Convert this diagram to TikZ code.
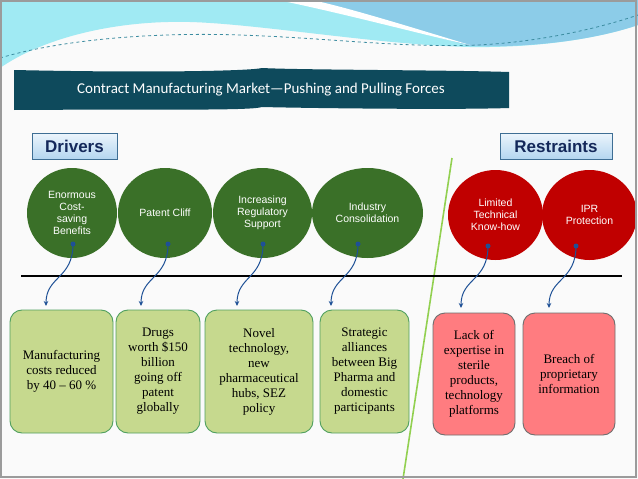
\documentclass[tikz,border=0pt]{standalone}
\usepackage{fontspec}
\setmainfont{Liberation Serif}
\setsansfont{Liberation Sans}
\newfontfamily\titlefont{Carlito}
\usepackage{xcolor}
\definecolor{headcyan}{RGB}{160,234,243}
\definecolor{headblue}{RGB}{140,204,232}
\definecolor{dashteal}{RGB}{60,140,160}
\definecolor{bannerteal}{RGB}{14,74,92}
\definecolor{drvgreen}{RGB}{58,112,40}
\definecolor{rstred}{RGB}{192,0,0}
\definecolor{pboxgreen}{RGB}{198,217,142}
\definecolor{pboxline}{RGB}{80,160,95}
\definecolor{nboxred}{RGB}{255,124,128}
\definecolor{nboxline}{RGB}{110,110,110}
\definecolor{tagtop}{RGB}{236,245,252}
\definecolor{tagbot}{RGB}{180,214,240}
\definecolor{tagline}{RGB}{62,110,148}
\definecolor{tagtext}{RGB}{20,40,90}
\definecolor{pinblue}{RGB}{30,80,150}
\definecolor{divgreen}{RGB}{146,208,80}
\definecolor{pagegray}{RGB}{250,250,250}
\definecolor{framegray}{RGB}{155,155,155}
\usetikzlibrary{shapes.geometric,arrows.meta,positioning}

\begin{document}
\begin{tikzpicture}[x=1pt,y=-1pt,
  drv/.style={ellipse,fill=drvgreen,text=white,align=center,inner sep=0pt,
    font=\sffamily\fontsize{10.5}{12}\selectfont,minimum height=90pt},
  rst/.style={drv,fill=rstred},
  pbox/.style={draw=pboxline,fill=pboxgreen,rounded corners=12pt,line width=0.9pt,
    align=center,inner sep=2pt,minimum height=123pt,font=\fontsize{13}{15}\selectfont},
  nbox/.style={pbox,draw=nboxline,fill=nboxred,minimum height=122pt},
  tag/.style={draw=tagline,top color=tagtop,bottom color=tagbot,text=tagtext,
    font=\sffamily\bfseries\fontsize{17}{20}\selectfont,minimum height=26pt,inner sep=0pt},
  pin/.style={circle,fill=pinblue,inner sep=0pt,minimum size=5pt},
  arr/.style={-{Stealth[length=5pt,width=4.5pt]},pinblue,line width=1pt}]
  \useasboundingbox (0,0) rectangle (638,479);
  \fill[pagegray] (0,0) rectangle (638,479);
  % header waves
  \fill[headcyan] (0,0) -- (638,0) -- (638,25) .. controls (600,38) and (540,48) .. (470,47)
    .. controls (380,45) and (260,24) .. (190,22) .. controls (110,20) and (40,40) .. (0,68) -- cycle;
  \fill[headblue] (305,0) -- (638,0) -- (638,25) .. controls (600,38) and (540,48) .. (470,46)
    .. controls (420,32) and (350,12) .. (305,0);
  \fill[white] (278,0) .. controls (350,15) and (420,34) .. (470,45)
    .. controls (420,30) and (350,8) .. (312,0) -- cycle;
  \draw[dashteal,dashed,line width=0.8pt] (0,58) .. controls (60,40) and (150,32) .. (240,35)
    .. controls (330,38) and (400,48) .. (478,45) .. controls (540,42) and (600,28) .. (638,15);
  % title banner
  \fill[bannerteal] (14,70) .. controls (150,73) and (250,71) .. (262,68)
    .. controls (300,70) and (450,70) .. (509,72) -- (509,108)
    .. controls (450,110) and (300,108) .. (262,107) .. controls (250,111) and (150,109) .. (14,110) -- cycle;
  \node[text=white,font=\titlefont\fontsize{15}{18}\selectfont] (title) at (261,90)
    {Contract Manufacturing Market\textemdash Pushing and Pulling Forces};
  % tags
  \node[tag,minimum width=85pt] (drivers) at (74.5,146) {Drivers};
  \node[tag,minimum width=112pt] (restraints) at (556,146) {Restraints};
  % divider and axis
  \coordinate (divtop) at (452,158); \coordinate (divbot) at (403,479);
  \draw[divgreen,line width=1.6pt] (divtop) -- (divbot);
  \coordinate (axl) at (21,276); \coordinate (axr) at (622,276);
  \draw[black,line width=2pt] (axl) -- (axr);
  % forces
  \node[drv,minimum width=90pt] (c1) at (72,213) {Enormous\\Cost-\\saving\\Benefits};
  \node[drv,minimum width=94pt] (c2) at (165,213) {Patent Cliff};
  \node[drv,minimum width=99pt] (c3) at (262.5,213) {Increasing\\Regulatory\\Support};
  \node[drv,minimum width=111pt] (c4) at (367.5,213) {Industry\\Consolidation};
  \node[rst,minimum width=95pt] (c5) at (495.5,215) {Limited\\Technical\\Know-how};
  \node[rst,minimum width=95pt] (c6) at (589.5,215) {IPR\\Protection};
  % effects
  \node[pbox,minimum width=103pt] (b1) at (61.5,371.5) {Manufacturing\\costs reduced\\by 40 -- 60 \%};
  \node[pbox,minimum width=84pt] (b2) at (158,371.5) {Drugs\\worth \$150\\billion\\going off\\patent\\globally};
  \node[pbox,minimum width=108pt] (b3) at (259,371.5) {Novel\\technology,\\new\\pharmaceutical\\hubs, SEZ\\policy};
  \node[pbox,minimum width=89pt] (b4) at (364.5,371.5) {Strategic\\alliances\\between Big\\Pharma and\\domestic\\participants};
  \node[nbox,minimum width=82pt] (b5) at (474,374) {Lack of\\expertise in\\sterile\\products,\\technology\\platforms};
  \node[nbox,minimum width=92pt] (b6) at (569,374) {Breach of\\proprietary\\information};
  % connectors
  \coordinate (p1) at (73,244); \coordinate (t1) at (46,306);
  \coordinate (p2) at (168,244); \coordinate (t2) at (141,306);
  \coordinate (p3) at (263,244); \coordinate (t3) at (237,306);
  \coordinate (p4) at (358,244); \coordinate (t4) at (331,306);
  \coordinate (p5) at (488,246); \coordinate (t5) at (461,308);
  \coordinate (p6) at (576,246); \coordinate (t6) at (549,308);
  \foreach \i in {1,...,6} {
    \draw[arr] (p\i) .. controls +(0,35) and +(0,-30) .. (t\i);
    \node[pin] at (p\i) {};
  }
  % frame
  \draw[framegray,line width=2pt] (1,1) rectangle (636,477);
\end{tikzpicture}
\end{document}
